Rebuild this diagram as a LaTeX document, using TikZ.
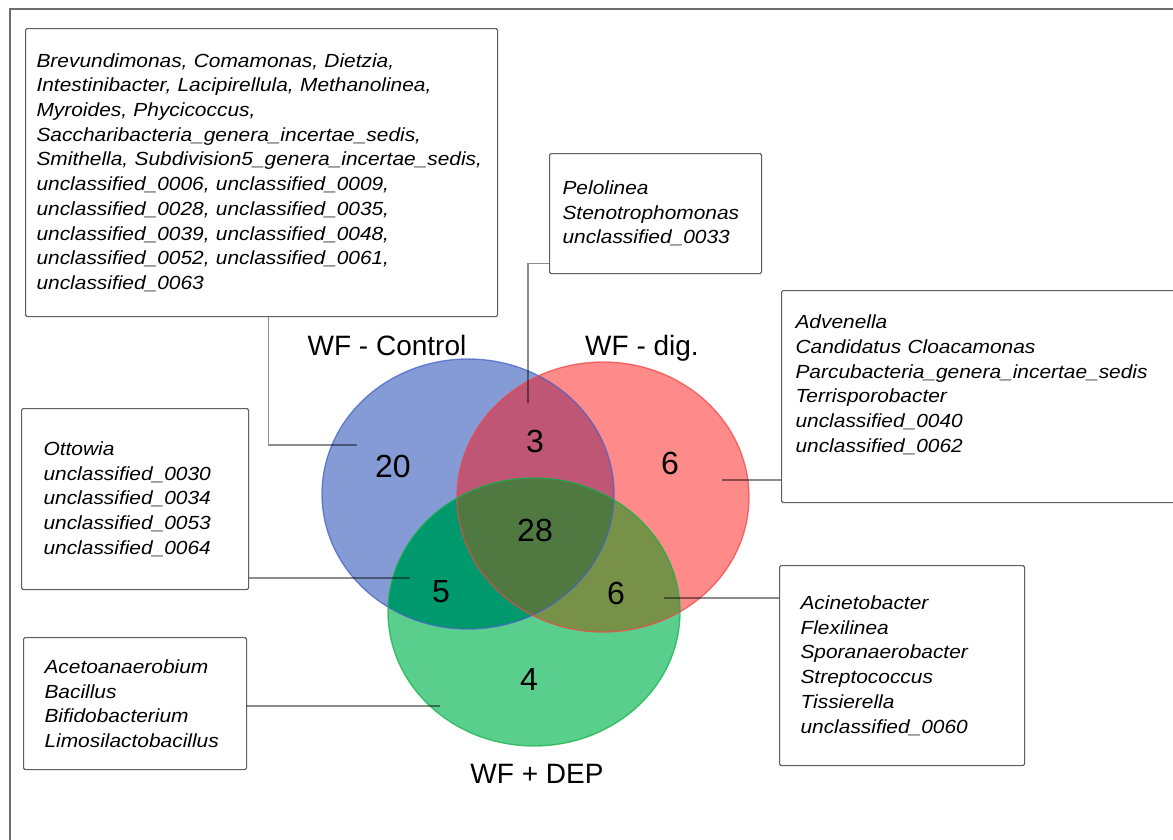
\documentclass[tikz,border=0pt]{standalone}
\usepackage{fontspec}
\setmainfont{Liberation Sans}
\newfontfamily\genusfont[FakeStretch=1.1]{Liberation Sans}
\hyphenpenalty=10000
\exhyphenpenalty=10000

\definecolor{vblue}{RGB}{133,155,213}
\definecolor{vred}{RGB}{255,138,138}
\definecolor{vgreen}{RGB}{90,206,140}
\definecolor{vbr}{RGB}{192,86,117}
\definecolor{vbg}{RGB}{0,153,110}
\definecolor{vrg}{RGB}{119,146,72}
\definecolor{vall}{RGB}{80,121,66}
\definecolor{vblueline}{RGB}{68,98,200}
\definecolor{vredline}{RGB}{240,70,70}
\definecolor{vgreenline}{RGB}{20,178,70}
\definecolor{boxgray}{RGB}{95,95,95}
\definecolor{framegray}{RGB}{110,110,110}

\newcommand{\ctrlset}{(468,494) ellipse [x radius=146pt, y radius=135pt]}
\newcommand{\digset}{(603,497) ellipse [x radius=146pt, y radius=135pt]}
\newcommand{\depset}{(534,612) ellipse [x radius=146pt, y radius=134pt]}

\begin{document}
\begin{tikzpicture}[x=1pt, y=-1pt,
		genbox/.style={draw=boxgray, line width=1.1pt, rounded corners=1.5pt, anchor=north west, inner sep=0pt, align=left, font={\genusfont\fontsize{19}{24.7}\selectfont\itshape}},
		conn/.style={draw=black, draw opacity=0.45, line width=1.4pt},
		count/.style={anchor=base, font={\fontsize{32}{32}\selectfont}},
		setname/.style={anchor=base, font={\fontsize{28}{28}\selectfont}}]
	\clip (0,0) rectangle (1173,839);
	\fill[white] (0,0) rectangle (1173,839);
	\draw[framegray, line width=2pt] (10,9) rectangle (1190,860);

	\fill[vblue] \ctrlset;
	\fill[vred] \digset;
	\fill[vgreen] \depset;
	\begin{scope}
		\clip \ctrlset;
		\fill[vbr] \digset;
		\fill[vbg] \depset;
		\clip \digset;
		\fill[vall] \depset;
	\end{scope}
	\begin{scope}
		\clip \digset;
		\clip \depset;
		\begin{scope}[even odd rule]
			\clip \ctrlset (0,0) rectangle (1173,839);
			\fill[vrg] (0,0) rectangle (1173,839);
		\end{scope}
	\end{scope}
	\draw[vblueline, line width=1.3pt, draw opacity=0.75] \ctrlset;
	\draw[vredline, line width=1.3pt, draw opacity=0.75] \digset;
	\draw[vgreenline, line width=1.3pt, draw opacity=0.75] \depset;

	\node[setname] (ctrlname) at (387,355) {WF - Control};
	\node[setname] (digname) at (642,355) {WF - dig.};
	\node[setname] (depname) at (537,783) {WF + DEP};

	\node[genbox, minimum width=472pt, minimum height=288pt, text width=450pt] (onlyctrl) at (25,28) {Brevundimonas,~Comamonas,~Dietzia,\\
		Intestinibacter,~Lacipirellula,~Methanolinea,\\
		Myroides,~Phycicoccus,\\
		Saccharibacteria\_genera\_incertae\_sedis,\\
		Smithella,~Subdivision5\_genera\_incertae\_sedis,\\
		unclassified\_0006,~unclassified\_0009,\\
		unclassified\_0028,~unclassified\_0035,\\
		unclassified\_0039,~unclassified\_0048,\\
		unclassified\_0052,~unclassified\_0061,\\
		unclassified\_0063};
	\node[genbox, minimum width=212pt, minimum height=120pt, text width=186pt] (ctrldig) at (549,153) {Pelolinea\\
		Stenotrophomonas\\
		unclassified\_0033};
	\node[genbox, minimum width=420pt, minimum height=212pt, text width=392pt] (onlydig) at (781,290) {Advenella\\
		Candidatus~Cloacamonas\\
		Parcubacteria\_genera\_incertae\_sedis\\
		Terrisporobacter\\
		unclassified\_0040\\
		unclassified\_0062\rule[-26pt]{0pt}{26pt}};
	\node[genbox, minimum width=227pt, minimum height=181pt, text width=183pt] (ctrldep) at (21,408) {Ottowia\\
		unclassified\_0030\\
		unclassified\_0034\\
		unclassified\_0053\\
		unclassified\_0064};
	\node[genbox, minimum width=245pt, minimum height=200pt, text width=203pt] (digdep) at (779,565) {Acinetobacter\\
		Flexilinea\\
		Sporanaerobacter\\
		Streptococcus\\
		Tissierella\\
		unclassified\_0060};
	\node[genbox, minimum width=223pt, minimum height=132pt, text width=181pt] (onlydep) at (23,637) {Acetoanaerobium\\
		Bacillus\\
		Bifidobacterium\\
		Limosilactobacillus};

	\coordinate (at20) at (357,445);
	\coordinate (at3) at (528,403);
	\coordinate (at6a) at (722,480);
	\coordinate (at5) at (410,578);
	\coordinate (at6b) at (664,598);
	\coordinate (at4) at (440,706);

	\draw[conn] (at20) -| ([xshift=7pt]onlyctrl.south);
	\draw[conn] (at3) |- ([yshift=-50pt]ctrldig.west);
	\draw[conn] (at6a) -- (at6a -| onlydig.west);
	\draw[conn] (at5) -- (at5 -| ctrldep.east);
	\draw[conn] (at6b) -- (at6b -| digdep.west);
	\draw[conn] (at4) -- (at4 -| onlydep.east);

	\node[count] (n20) at (393,477) {20};
	\node[count] (n3) at (535,452) {3};
	\node[count] (n6a) at (670,474) {6};
	\node[count] (n28) at (535,541) {28};
	\node[count] (n5) at (441,602) {5};
	\node[count] (n6b) at (616,604) {6};
	\node[count] (n4) at (529,690) {4};
\end{tikzpicture}
\end{document}
